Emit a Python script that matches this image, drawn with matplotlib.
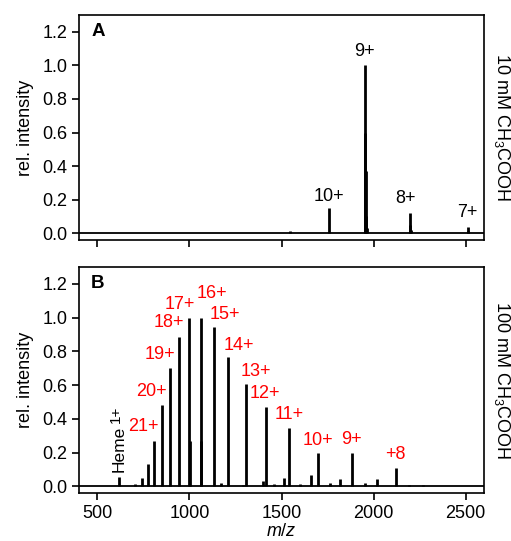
import matplotlib.pyplot as plt
import numpy as np

plt.rcParams['font.family'] = ['Liberation Sans', 'DejaVu Sans']
plt.rcParams['font.size'] = 13
plt.rcParams['axes.linewidth'] = 1.2
plt.rcParams['mathtext.fontset'] = 'custom'
plt.rcParams['mathtext.rm'] = 'Liberation Sans'
plt.rcParams['mathtext.it'] = 'Liberation Sans:italic'

# panel A: 10 mM CH3COOH (holo-Mb charge states)
mz_a = [1546, 1757, 1952, 1955, 1958, 1961, 1965, 2197, 2200, 2203, 2511, 2514]
int_a = [0.012, 0.15, 0.6, 1.0, 0.37, 0.1, 0.03, 0.12, 0.05, 0.02, 0.04, 0.015]
lab_a = ['10+', '9+', '8+', '7+']
lab_a_x = [1757, 1950, 2173, 2510]
lab_a_y = [0.22, 1.08, 0.205, 0.125]

# panel B: 100 mM CH3COOH (apo-Mb charge states)
mz_b = [616, 706, 740, 773, 808, 849, 893, 943, 998, 1003, 1060, 1065, 1131,
        1170, 1212, 1290, 1305, 1400, 1414, 1460, 1516, 1542, 1600, 1660,
        1696, 1763, 1820, 1884, 1955, 2020, 2120, 2195, 2270]
int_b = [0.056, 0.012, 0.05, 0.13, 0.27, 0.48, 0.70, 0.885, 0.995, 0.27, 1.0,
         0.27, 0.945, 0.02, 0.765, 0.01, 0.604, 0.034, 0.469, 0.015, 0.05,
         0.346, 0.015, 0.066, 0.195, 0.02, 0.046, 0.20, 0.02, 0.042, 0.107,
         0.01, 0.01]
lab_b = ['21+', '20+', '19+', '18+', '17+', '16+', '15+', '14+', '13+',
         '12+', '11+', '10+', '9+', '+8']
lab_b_x = [747, 791, 841, 887, 950, 1120, 1190, 1268, 1360, 1411, 1542,
           1696, 1880, 2121]
lab_b_y = [0.352, 0.56, 0.78, 0.972, 1.08, 1.14, 1.02, 0.835, 0.68, 0.547,
           0.427, 0.272, 0.278, 0.19]

fig = plt.figure(figsize=(5.11, 5.41), dpi=100)
ax1 = fig.add_axes([0.1546, 0.5564, 0.7926, 0.4159])
ax2 = fig.add_axes([0.1546, 0.0887, 0.7926, 0.4178])

for ax in (ax1, ax2):
    ax.set_xlim(400, 2600)
    ax.set_ylim(-0.04, 1.3)
    ax.set_xticks([500, 1000, 1500, 2000, 2500])
    ax.set_yticks([0.0, 0.2, 0.4, 0.6, 0.8, 1.0, 1.2])
    ax.tick_params(direction='out', length=5, width=1.2, labelsize=13)
    ax.set_ylabel('rel. intensity', labelpad=6)
    ax.axhline(0, color='black', lw=1.3, zorder=2)

ax1.set_xticklabels([])
ax1.vlines(mz_a, 0, int_a, color='black', lw=2)
for t, x, y in zip(lab_a, lab_a_x, lab_a_y):
    ax1.text(x, y, t, ha='center', va='center')
ax1.text(0.03, 0.925, 'A', transform=ax1.transAxes, fontsize=13.5,
         fontweight='bold', ha='left', va='center')
ax1.text(1.045, 0.5, '10 mM CH$_3$COOH', transform=ax1.transAxes,
         rotation=270, ha='center', va='center')

ax2.vlines(mz_b, 0, int_b, color='black', lw=2)
for t, x, y in zip(lab_b, lab_b_x, lab_b_y):
    ax2.text(x, y, t, ha='center', va='center', color='#ff0000')
ax2.text(620, 0.086, 'Heme', rotation=90, ha='center', va='bottom',
         fontsize=12.5)
ax2.text(598, 0.375, '1+', rotation=90, ha='center', va='bottom', fontsize=11)
ax2.text(0.03, 0.925, 'B', transform=ax2.transAxes, fontsize=13.5,
         fontweight='bold', ha='left', va='center')
ax2.text(1.045, 0.5, '100 mM CH$_3$COOH', transform=ax2.transAxes,
         rotation=270, ha='center', va='center')
ax2.set_xlabel('$m/z$', labelpad=1)

fig.savefig('out.png', dpi=100)
